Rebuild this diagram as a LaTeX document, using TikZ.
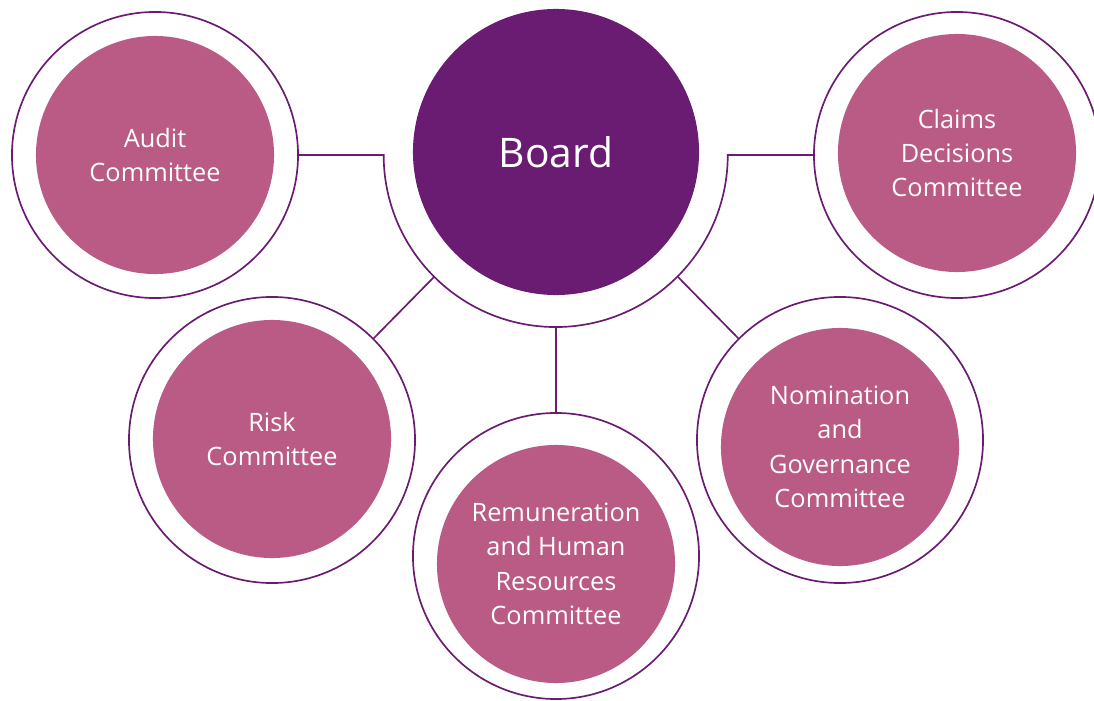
\documentclass[tikz,border=0pt]{standalone}
\usepackage{fontspec}
\setmainfont{Open Sans}
\definecolor{boardpurple}{HTML}{6A1B72}
\definecolor{compink}{HTML}{BA5B85}
\begin{document}
\begin{tikzpicture}[x=0.025cm,y=0.025cm,
    ring/.style={circle,draw=boardpurple,line width=1.2pt,minimum size=7.15cm,inner sep=0pt},
    comm/.style={circle,fill=compink,minimum size=5.95cm,inner sep=0pt,text=white,align=center,
      font=\fontsize{18}{24.5}\selectfont},
    link/.style={draw=boardpurple,line width=1.2pt}]
  \useasboundingbox (0,0) rectangle (1094,700);
  % outer rings
  \node[ring] (auditring) at (155,545) {};
  \node[ring] (claimsring) at (957,545) {};
  \node[ring] (riskring) at (272,260) {};
  \node[ring] (nomring) at (840,260) {};
  \node[ring] (remring) at (556,144) {};
  \node[circle,minimum size=8.6cm,inner sep=0pt] (boardring) at (556,545) {};
  % board
  \node[circle,fill=boardpurple,minimum size=7.15cm,inner sep=0pt,text=white,
    font=\fontsize{29}{36}\selectfont] (board) at (556,548) {Board};
  % committees
  \node[comm] (audit) at (155,545) {Audit\\Committee};
  \node[comm] (claims) at (957,547) {Claims\\Decisions\\Committee};
  \node[comm] (risk) at (272,261) {Risk\\Committee};
  \node[comm] (nom) at (840,253) {Nomination\\and\\Governance\\Committee};
  \node[comm] (rem) at (556,136) {Remuneration\\and Human\\Resources\\Committee};
  % connectors
  \draw[link] (auditring.east) -- (boardring.west) arc[start angle=180,end angle=360,radius=4.3cm]
    -- (claimsring.west);
  \draw[link] (boardring.-135) -- (riskring.45);
  \draw[link] (boardring.-45) -- (nomring.135);
  \draw[link] (boardring.south) -- (remring.north);
\end{tikzpicture}
\end{document}
